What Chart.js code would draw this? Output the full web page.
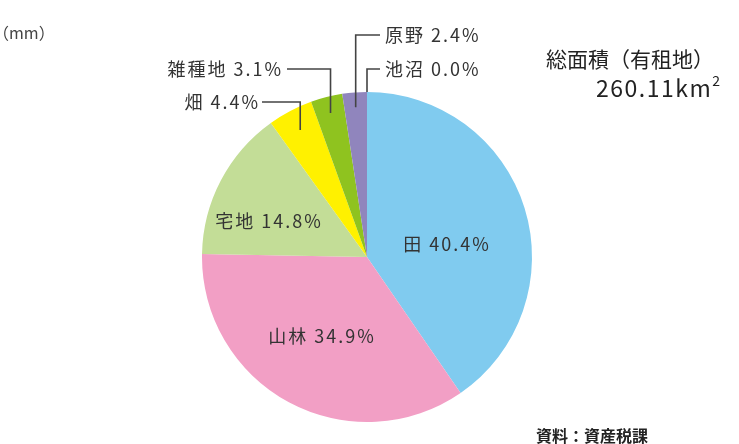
<!DOCTYPE html>
<html>
<head>
<meta charset="utf-8">
<script src="https://cdn.jsdelivr.net/npm/chart.js@4"></script>
<style>
  html, body { margin: 0; padding: 0; background: #fff; }
  #wrap { position: relative; width: 739px; height: 444px; }
</style>
</head>
<body>
<div id="wrap"><canvas id="landChart" width="739" height="444"></canvas></div>
<script>
// land use shares (%), clockwise from 12 o'clock
var categories = ['田', '山林', '宅地', '畑', '雑種地', '原野', '池沼'];
var shares = [40.4, 34.9, 14.8, 4.4, 3.1, 2.4, 0.0];
var colors = ['#80cbef', '#f29fc5', '#c3dd97', '#fff100', '#8fc31f', '#9085bd', '#6fb7e0'];

var totalLabel = '総面積（有租地）';
var totalValue = '260.11km';
var sourceLabel = '資料：資産税課';

var FONT = '"Noto Sans CJK JP", "Noto Sans", sans-serif';

// where each label goes: inside the slice or out on a leader line
var labelLayout = [
    { inside: true, x: 447, y: 244 },
    { inside: true, x: 322, y: 336 },
    { inside: true, x: 269, y: 221 },
    { inside: false, tx: 258, ty: 102, elbowX: 262, align: 'right', k: 0.87 },
    { inside: false, tx: 281, ty: 69, elbowX: 287, align: 'right', k: 0.9 },
    { inside: false, tx: 385, ty: 35, elbowX: 380, align: 'left', k: 0.91 },
    { inside: false, tx: 385, ty: 69, elbowX: 380, align: 'left', k: 1.0 }
];

function fmt(v) { return v.toFixed(1) + '%'; }

var labelPlugin = {
    id: 'sliceLabels',
    afterDraw: function(chart) {
        var c = chart.ctx;
        var arcs = chart.getDatasetMeta(0).data;
        c.save();
        c.textBaseline = 'middle';
        c.fillStyle = '#333';
        c.strokeStyle = '#444';
        c.lineWidth = 1.6;
        c.font = '18px ' + FONT;
        c.letterSpacing = '2px';
        arcs.forEach(function(arc, i) {
            var L = labelLayout[i];
            var text = categories[i] + ' ' + fmt(shares[i]);
            if (L.inside) {
                c.textAlign = 'center';
                c.fillText(text, L.x, L.y);
                return;
            }
            var mid = (arc.startAngle + arc.endAngle) / 2;
            var r = arc.outerRadius * L.k;
            var px = arc.x + Math.cos(mid) * r;
            var py = arc.y + Math.sin(mid) * r;
            c.beginPath();
            c.moveTo(px, py);
            c.lineTo(px, L.ty);
            c.lineTo(L.elbowX, L.ty);
            c.stroke();
            c.textAlign = L.align;
            // right-aligned text carries trailing spacing, shift it back
            c.fillText(text, L.align === 'right' ? L.tx + 2 : L.tx, L.ty);
        });

        c.letterSpacing = '0px';
        c.fillStyle = '#444';
        c.textAlign = 'left';
        c.font = '16px ' + FONT;
        c.fillText('（mm）', -7, 33);

        c.fillStyle = '#222';
        c.font = '21px ' + FONT;
        c.fillText(totalLabel, 546, 59);
        c.font = '23px ' + FONT;
        c.letterSpacing = '1.5px';
        c.fillText(totalValue, 596, 88);
        var w = c.measureText(totalValue).width;
        c.letterSpacing = '0px';
        c.font = '14px ' + FONT;
        c.fillText('2', 596 + w, 81);

        c.font = 'bold 16px ' + FONT;
        c.fillStyle = '#222';
        c.fillText(sourceLabel, 536, 436);
        c.restore();
    }
};

var ctx = document.getElementById('landChart').getContext('2d');
var landChart = new Chart(ctx, {
    type: 'pie',
    data: {
        labels: categories,
        datasets: [{
            data: shares,
            backgroundColor: colors,
            borderWidth: 0
        }]
    },
    options: {
        responsive: false,
        animation: false,
        layout: { padding: { top: 92, bottom: 22, left: 202, right: 207 } },
        plugins: {
            legend: { display: false },
            tooltip: { enabled: false }
        }
    },
    plugins: [labelPlugin]
});
</script>
</body>
</html>
